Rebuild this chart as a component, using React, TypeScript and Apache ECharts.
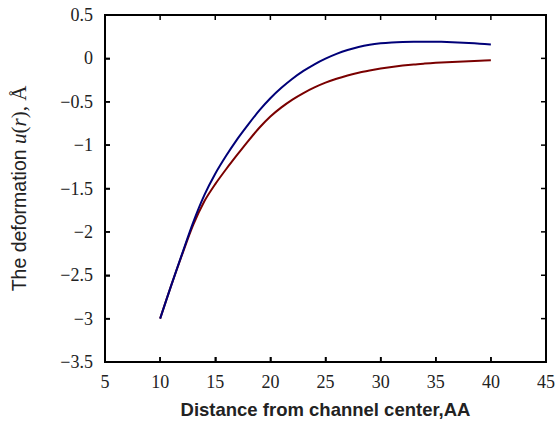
import React, { useEffect, useRef } from "react";
import * as echarts from "echarts";

const xValues = [10, 11, 12, 13, 14, 15, 16, 17, 18, 19, 20, 21, 22, 23, 24, 25, 26, 27, 28, 29, 30, 31, 32, 33, 34, 35, 36, 37, 38, 39, 40];
const blueValues = [-3.0, -2.62, -2.25, -1.89, -1.58, -1.33, -1.12, -0.93, -0.76, -0.6, -0.46, -0.34, -0.235, -0.145, -0.068, -0.003, 0.052, 0.097, 0.132, 0.157, 0.173, 0.183, 0.189, 0.192, 0.193, 0.192, 0.189, 0.184, 0.178, 0.17, 0.161];
const redValues = [-3.0, -2.62, -2.26, -1.92, -1.65, -1.45, -1.275, -1.11, -0.95, -0.8, -0.67, -0.565, -0.475, -0.4, -0.335, -0.28, -0.235, -0.197, -0.165, -0.14, -0.118, -0.099, -0.083, -0.07, -0.06, -0.051, -0.044, -0.038, -0.032, -0.027, -0.023];

const xTicks = [5, 10, 15, 20, 25, 30, 35, 40, 45];
const yTicks = [-3.5, -3, -2.5, -2, -1.5, -1, -0.5, 0, 0.5];

const xMin = 5, xMax = 45, xStep = 5;
const yMin = -3.5, yMax = 0.5, yStep = 0.5;

const fmt = (v: number) => {
  const s = String(Math.round(v * 100) / 100);
  return s.replace("-", "\u2212");
};

export default function App() {
  const ref = useRef<HTMLDivElement>(null);
  useEffect(() => {
    if (!ref.current) return;
    const chart = echarts.init(ref.current, null, { renderer: "svg" });
    const labelStyle = { fontFamily: "Liberation Serif", fontSize: 18, color: "#222" };
    const TL = 5;
    chart.setOption({
      animation: false,
      grid: { left: 100, right: 14, top: 15, bottom: 57, show: true, borderColor: "#000", borderWidth: 2 },
      xAxis: {
        type: "value", min: xMin, max: xMax, interval: xStep,
        axisLine: { show: true, onZero: false, lineStyle: { color: "#000", width: 2 } },
        axisTick: { show: true, inside: true, length: TL, lineStyle: { color: "#000", width: 1.5 } },
        splitLine: { show: false },
        axisLabel: { ...labelStyle, margin: 11, formatter: fmt },
        name: "Distance from channel center,AA",
        nameLocation: "middle", nameGap: 38,
        nameTextStyle: { fontFamily: "Liberation Sans", fontWeight: "bold", fontSize: 18.5, color: "#222" },
      },
      yAxis: {
        type: "value", min: yMin, max: yMax, interval: yStep,
        axisLine: { show: true, onZero: false, lineStyle: { color: "#000", width: 2 } },
        axisTick: { show: true, inside: true, length: TL, lineStyle: { color: "#000", width: 1.5 } },
        splitLine: { show: false },
        axisLabel: { ...labelStyle, margin: 12, formatter: fmt },
        name: "{a|The deformation }{b|u}{c|(}{b|r}{c|), Å}",
        nameLocation: "middle", nameGap: 76, nameRotate: 90,
        nameTextStyle: {
          color: "#222",
          rich: {
            a: { fontFamily: "Liberation Sans", fontSize: 19.5, color: "#222" },
            b: { fontFamily: "Liberation Serif", fontStyle: "italic", fontSize: 21, color: "#222" },
            c: { fontFamily: "Liberation Serif", fontSize: 21, color: "#222" },
          },
        },
      },
      series: [
        {
          type: "line",
          data: xValues.map((x, i) => [x, redValues[i]]),
          showSymbol: false, smooth: 0.3,
          lineStyle: { color: "#7a0000", width: 2 },
        },
        {
          type: "line",
          data: xValues.map((x, i) => [x, blueValues[i]]),
          showSymbol: false, smooth: 0.3,
          lineStyle: { color: "#000078", width: 2 },
        },
        {
          type: "custom",
          data: [[xMin, yMin]],
          renderItem: (params: any, api: any) => {
            const tl = api.coord([xMin, yMax]);
            const br = api.coord([xMax, yMin]);
            const stroke = { stroke: "#000", lineWidth: 1.5 };
            const children: any[] = [
              { type: "line", shape: { x1: tl[0], y1: tl[1], x2: br[0], y2: tl[1] }, style: { stroke: "#000", lineWidth: 2 } },
              { type: "line", shape: { x1: br[0], y1: tl[1], x2: br[0], y2: br[1] }, style: { stroke: "#000", lineWidth: 2 } },
            ];
            xTicks.forEach((t) => {
              const p = api.coord([t, yMin]);
              children.push({ type: "line", shape: { x1: p[0], y1: tl[1], x2: p[0], y2: tl[1] + TL }, style: stroke });
              children.push({ type: "line", shape: { x1: p[0], y1: br[1], x2: p[0], y2: br[1] - TL }, style: stroke });
            });
            yTicks.forEach((t) => {
              const p = api.coord([xMin, t]);
              children.push({ type: "line", shape: { x1: br[0], y1: p[1], x2: br[0] - TL, y2: p[1] }, style: stroke });
              children.push({ type: "line", shape: { x1: tl[0], y1: p[1], x2: tl[0] + TL, y2: p[1] }, style: stroke });
            });
            return { type: "group", children };
          },
        },
      ],
    });
    return () => chart.dispose();
  }, []);
  return <div ref={ref} style={{ width: 560, height: 424, position: "absolute", left: 0, top: 0 }} />;
}
